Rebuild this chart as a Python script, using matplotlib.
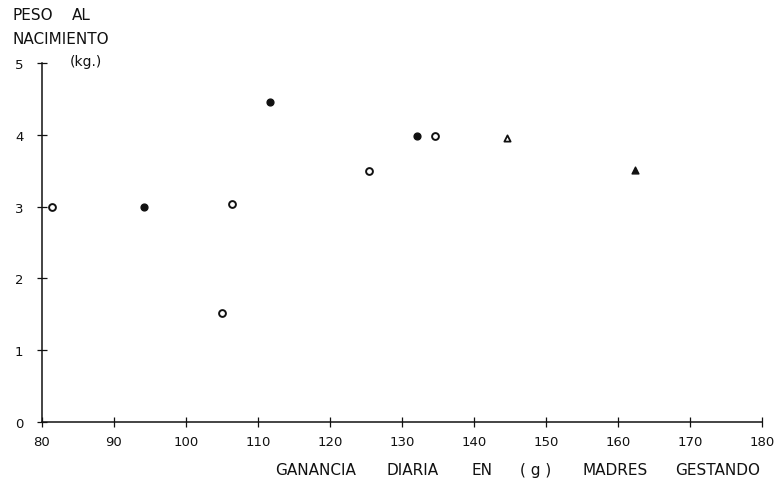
import matplotlib
matplotlib.use("Agg")
import matplotlib.pyplot as plt

# data
open_circle_x = [81.4, 106.4, 105.0, 125.4, 134.6]
open_circle_y = [3.0, 3.03, 1.52, 3.49, 3.99]
filled_circle_x = [94.2, 111.7, 132.1]
filled_circle_y = [3.0, 4.45, 3.99]
open_tri_x = [144.6]
open_tri_y = [3.96]
filled_tri_x = [162.4]
filled_tri_y = [3.51]
x_ticks = [80, 90, 100, 110, 120, 130, 140, 150, 160, 170, 180]
y_ticks = [0, 1, 2, 3, 4, 5]

plt.rcParams['font.family'] = ['DejaVu Sans']
fig = plt.figure(figsize=(7.82, 4.89), dpi=100)
ax = fig.add_axes([42/782, 1-423/489, (762-42)/782, (423-64)/489])
ax.set_xlim(80, 180)
ax.set_ylim(0, 5)
for s in ['top', 'right']:
    ax.spines[s].set_visible(False)
for s in ['left', 'bottom']:
    ax.spines[s].set_linewidth(1.1)
    ax.spines[s].set_color('#111111')
ax.set_xticks(x_ticks)
ax.set_yticks(y_ticks)
ax.tick_params(direction='inout', length=7, width=0.9, colors='#111111',
               labelsize=9.5, labelcolor='#111111')
ax.tick_params(axis='x', pad=6)
ax.tick_params(axis='y', pad=10)

ms = 24
ax.scatter(open_circle_x, open_circle_y, s=ms, facecolors='white', edgecolors='#111111', linewidths=1.4, zorder=5, clip_on=False)
ax.scatter(filled_circle_x, filled_circle_y, s=ms, facecolors='#111111', edgecolors='#111111', linewidths=1.0, zorder=5, clip_on=False)
ax.scatter(open_tri_x, open_tri_y, s=20, marker='^', facecolors='white', edgecolors='#111111', linewidths=1.3, zorder=5, clip_on=False)
ax.scatter(filled_tri_x, filled_tri_y, s=24, marker='^', facecolors='#111111', edgecolors='#111111', linewidths=1.0, zorder=5, clip_on=False)

kw = dict(color='#111111', va='center', ha='left')
fig.text(12/782, 1-16/489, "PESO", fontsize=11, **kw)
fig.text(72/782, 1-16/489, "AL", fontsize=11, **kw)
fig.text(12/782, 1-40/489, "NACIMIENTO", fontsize=11, **kw)
fig.text(70/782, 1-62/489, "(kg.)", fontsize=10, **kw)

xl_words = ["GANANCIA", "DIARIA", "EN", "( g )", "MADRES", "GESTANDO"]
xl_left = [275, 387, 472, 520, 583, 675]
for w, xp in zip(xl_words, xl_left):
    fig.text(xp/782, 1-471/489, w, fontsize=11, **kw)

fig.savefig("out.png", dpi=100)
